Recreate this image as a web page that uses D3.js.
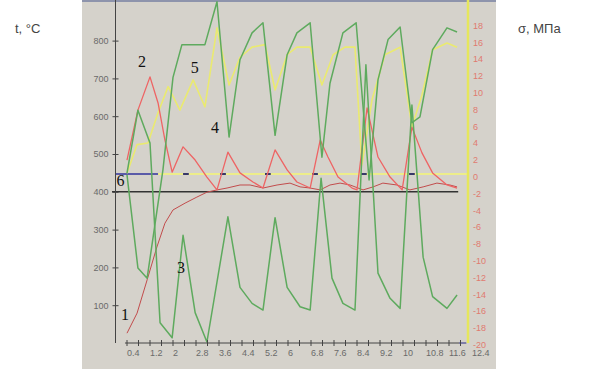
<!DOCTYPE html>
<html>
<head>
<meta charset="utf-8">
<script src="https://cdn.jsdelivr.net/npm/d3@7"></script>
<style>
  body { margin: 0; background: #fff; }
  svg { display: block; }
  .tickText { font-family: "Liberation Sans", Arial, sans-serif; font-size: 9px; }
  .curveNum { font-family: "Liberation Serif", "Times New Roman", serif; font-size: 16px; fill: #111; }
</style>
</head>
<body>
<div id="chart"></div>
<script>
// tick labels
var tLabels = [100, 200, 300, 400, 500, 600, 700, 800]
var sLabels = [18, 16, 14, 12, 10, 8, 6, 4, 2, 0, -2, -4, -6, -8, -10, -12, -14, -16, -18, -20]
var xLabels = [0.4, 1.2, 2, 2.8, 3.6, 4.4, 5.2, 6, 6.8, 7.6, 8.4, 9.2, 10, 10.8, 11.6, 12.4]

// curve 1 - temperature (t, °C)
var c1x = [0.40, 0.75, 1.10, 1.44, 1.72, 2.00, 2.42, 2.83, 3.18, 3.53, 3.88, 4.33, 4.68, 5.13, 5.62, 6.07, 6.42, 6.77, 7.12, 7.46, 7.81, 8.16, 8.61, 8.96, 9.30, 9.79, 10.24, 10.70, 11.18, 11.63, 11.88]
var c1t = [26, 79, 167, 254, 317, 352, 370, 386, 399, 405, 410, 418, 418, 410, 418, 423, 413, 410, 405, 418, 423, 418, 405, 413, 423, 418, 405, 413, 423, 418, 413]

// curve 2 - temperature (t, °C)
var c2x = [0.40, 0.78, 1.20, 1.48, 1.72, 1.97, 2.35, 2.77, 3.18, 3.53, 3.91, 4.33, 4.78, 5.13, 5.55, 5.97, 6.31, 6.77, 7.12, 7.39, 7.74, 8.23, 8.40, 8.75, 9.13, 9.55, 9.97, 10.31, 10.66, 11.03, 11.53, 11.88]
var c2t = [484, 616, 704, 635, 537, 452, 519, 484, 439, 405, 505, 450, 426, 410, 511, 458, 426, 410, 537, 492, 439, 410, 405, 622, 492, 439, 405, 571, 503, 450, 418, 410]

// curve 3 - stress (σ, MPa)
var c3x = [0.40, 0.78, 1.20, 1.55, 1.97, 2.35, 2.77, 3.18, 3.91, 4.33, 4.75, 5.13, 5.55, 5.97, 6.42, 6.77, 7.15, 7.53, 7.91, 8.33, 8.71, 9.13, 9.55, 9.90, 10.31, 10.70, 11.03, 11.53, 11.88]
var c3s = [0.1, 7.6, 3.7, -17.7, -19.5, -7.3, -16.5, -20.0, -5.1, -13.5, -15.4, -16.2, -5.2, -13.5, -15.8, -16.2, -0.5, -12.4, -15.4, -16.2, 13.0, -11.8, -14.8, -16.0, 8.2, -9.9, -14.6, -16.0, -14.4]

// curve 4 - stress (σ, MPa)
var c4x = [0.40, 0.78, 1.10, 1.65, 2.00, 2.31, 3.11, 3.53, 3.95, 4.33, 4.75, 5.13, 5.55, 5.97, 6.31, 6.77, 7.18, 7.46, 7.91, 8.37, 8.82, 9.13, 9.48, 9.90, 10.31, 10.59, 11.03, 11.53, 11.88]
var c4s = [-0.1, -11.2, -12.4, 0.5, 11.5, 15.4, 15.4, 20.5, 4.4, 13.6, 16.8, 18.0, 4.6, 14.2, 16.8, 18.0, 2.0, 10.8, 16.8, 18.0, -0.7, 11.2, 16.0, 17.5, 6.1, 6.8, 14.8, 17.4, 16.9]

// curve 5 - stress (σ, MPa)
var c5x = [0.40, 0.75, 1.13, 1.48, 1.83, 2.24, 2.70, 3.11, 3.53, 3.95, 4.33, 4.75, 5.20, 5.55, 5.97, 6.31, 6.77, 7.18, 7.57, 7.98, 8.33, 8.57, 8.92, 9.37, 9.90, 10.31, 10.66, 11.03, 11.53, 11.88]
var c5s = [0.1, 3.5, 3.7, 7.3, 10.4, 7.6, 11.2, 8.0, 17.4, 10.6, 13.9, 15.1, 15.4, 10.0, 14.2, 15.1, 15.1, 10.6, 14.2, 15.1, 15.1, 1.1, 8.8, 14.2, 15.1, 5.6, 9.4, 14.8, 15.6, 15.1]

// curve 6 - shown at σ = 0, mostly hidden behind the zero line
var c6start = [0, 2.35, 3.64, 5.20, 6.84, 8.54, 10.21]
var c6end = [1.48, 2.55, 3.84, 5.40, 7.04, 8.74, 10.41]

// number labels for the curves: [x, t]
var numLabels = [
    { text: "1", x: 0.33, t: 60 },
    { text: "2", x: 0.92, t: 730 },
    { text: "3", x: 2.28, t: 185 },
    { text: "4", x: 3.46, t: 555 },
    { text: "5", x: 2.76, t: 715 },
    { text: "6", x: 0.17, t: 415 }
]

var svgWidth = 591
var svgHeight = 373

var svg = d3.select("#chart")
    .append("svg")
    .attr("width", svgWidth)
    .attr("height", svgHeight)

// gray panel
svg.append("rect")
    .attr("x", 82).attr("y", 0)
    .attr("width", 414).attr("height", 369)
    .attr("fill", "#d5d2cb")
svg.append("line")
    .attr("x1", 82).attr("x2", 496)
    .attr("y1", 1).attr("y2", 1)
    .attr("stroke", "#8e94ac").attr("stroke-width", 2)

// scales
var xScale = d3.scaleLinear().domain([0, 12.4]).range([115.5, 472])
var tScale = d3.scaleLinear().domain([0, 900]).range([343, 2.8])
var sScale = d3.scaleLinear().domain([-20, 18]).range([342, 22.8])

var plot = svg.append("g")

// left axis
var leftAxis = d3.axisLeft(tScale)
    .tickValues(tLabels)
    .tickSizeInner(3)
    .tickSizeOuter(0)
    .tickPadding(4)

var leftG = svg.append("g")
    .attr("transform", "translate(115.5,0)")
    .call(leftAxis)
leftG.select(".domain").remove()
leftG.selectAll(".tick line").attr("x1", 3).attr("x2", -3).attr("stroke", "#444")
leftG.selectAll(".tick text")
    .attr("class", "tickText")
    .attr("fill", "#6a6a6a")
    .attr("font-size", null)
    .attr("font-family", null)
leftG.append("line")
    .attr("y1", 0).attr("y2", 343)
    .attr("stroke", "#444")

// bottom axis
var bottomG = svg.append("g")
bottomG.append("line")
    .attr("x1", xScale(0.33)).attr("x2", xScale(12.2))
    .attr("y1", 343).attr("y2", 343)
    .attr("stroke", "#444")
bottomG.append("line")
    .attr("x1", xScale(11.95)).attr("x2", xScale(12.2))
    .attr("y1", 343).attr("y2", 343)
    .attr("stroke", "#7070c8")
bottomG.selectAll(".xtick")
    .data(d3.range(1, 31).map(d => d * 0.4))
    .enter()
    .append("line")
    .attr("x1", d => xScale(d)).attr("x2", d => xScale(d))
    .attr("y1", 340).attr("y2", 346)
    .attr("stroke", "#444")
bottomG.selectAll(".xlab")
    .data(xLabels)
    .enter()
    .append("text")
    .attr("class", "tickText")
    .attr("x", d => xScale(d))
    .attr("y", 356)
    .attr("fill", "#6a6a6a")
    .text(d => d)

// right axis (yellow)
svg.append("line")
    .attr("x1", 468).attr("x2", 468)
    .attr("y1", 0).attr("y2", 343)
    .attr("stroke", "#e6e65c").attr("stroke-width", 2.5)
svg.append("g")
    .selectAll("text")
    .data(sLabels)
    .enter()
    .append("text")
    .attr("class", "tickText")
    .attr("x", 473)
    .attr("y", d => sScale(d) + 6)
    .attr("fill", "#e07a70")
    .text(d => d)

// zero stress line
plot.append("line")
    .attr("x1", 115.5).attr("x2", 468)
    .attr("y1", sScale(0)).attr("y2", sScale(0))
    .attr("stroke", "#eded8a").attr("stroke-width", 2)

// 400 °C line
plot.append("line")
    .attr("x1", 112).attr("x2", xScale(11.92))
    .attr("y1", tScale(400)).attr("y2", tScale(400))
    .attr("stroke", "#333").attr("stroke-width", 1.5)

// curve 6 segments
plot.selectAll(".seg6")
    .data(c6start)
    .enter()
    .append("line")
    .attr("x1", d => xScale(d))
    .attr("x2", (d, i) => xScale(c6end[i]))
    .attr("y1", sScale(0)).attr("y2", sScale(0))
    .attr("stroke", (d, i) => i == 0 ? "#5a5aa8" : "#383868")
    .attr("stroke-width", 2)

function drawCurve(xs, ys, scale, color, width) {
    var pts = xs.map((x, i) => [xScale(x), scale(ys[i])])
    var line = d3.line()
    plot.append("path")
        .attr("d", line(pts))
        .attr("fill", "none")
        .attr("stroke", color)
        .attr("stroke-width", width)
        .attr("stroke-linejoin", "round")
}

drawCurve(c5x, c5s, sScale, "#eaea70", 1.6)
drawCurve(c1x, c1t, tScale, "#c24c4c", 1)
drawCurve(c2x, c2t, tScale, "#ee6464", 1.3)
drawCurve(c3x, c3s, sScale, "#5eaa5e", 1.5)
drawCurve(c4x, c4s, sScale, "#5eaa5e", 1.5)

// curve numbers
svg.append("g")
    .selectAll("text")
    .data(numLabels)
    .enter()
    .append("text")
    .attr("class", "curveNum")
    .attr("x", d => xScale(d.x))
    .attr("y", d => tScale(d.t))
    .attr("text-anchor", "middle")
    .text(d => d.text)

// axis titles
svg.append("text")
    .attr("x", 15).attr("y", 33)
    .attr("font-family", "Liberation Sans, Arial, sans-serif")
    .attr("font-size", 13)
    .attr("fill", "#444")
    .text("t, °C")
svg.append("text")
    .attr("x", 518).attr("y", 33)
    .attr("font-family", "Liberation Sans, Arial, sans-serif")
    .attr("font-size", 13)
    .attr("fill", "#444")
    .text("σ, МПа")
</script>
</body>
</html>
